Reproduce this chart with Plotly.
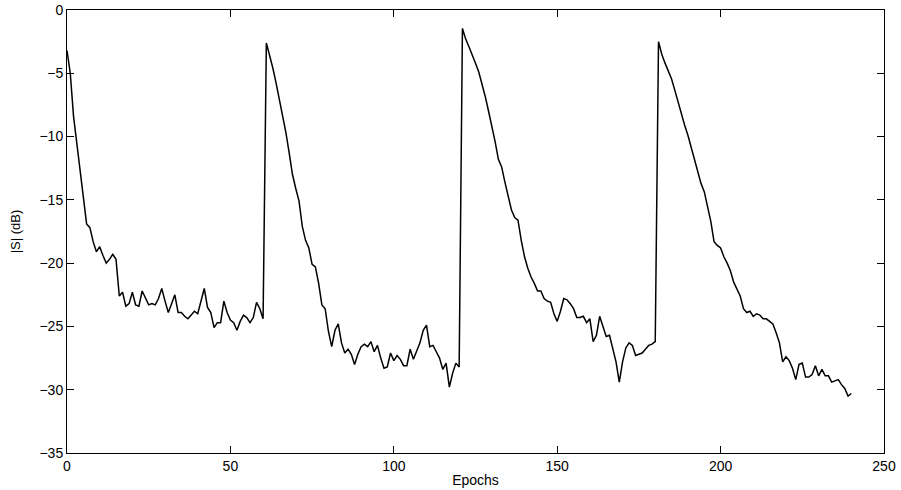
import plotly.graph_objects as go

# Separation measure |S| in dB per training epoch (source changes at epochs 61, 121, 181)
epochs = list(range(0, 241))

s_db_0_60 = [
    -3.2, -5.0, -8.4, -10.5, -12.4, -14.8, -16.9, -17.2, -18.3, -19.1,
    -18.7, -19.4, -20.0, -19.7, -19.3, -19.7, -22.6, -22.3, -23.4, -23.2,
    -22.3, -23.3, -23.4, -22.2, -22.7, -23.3, -23.2, -23.3, -22.8, -22.0,
    -23.0, -23.9, -23.2, -22.5, -23.9, -23.9, -24.2, -24.4, -24.1, -23.8,
    -24.0, -23.0, -22.0, -23.5, -23.9, -25.1, -24.7, -24.7, -23.0, -23.9,
    -24.5, -24.7, -25.3, -24.6, -24.1, -24.3, -24.7, -24.3, -23.1, -23.6,
    -24.4,
]
s_db_61_120 = [
    -2.6, -3.55, -4.6, -5.8, -7.1, -8.4, -9.7, -11.3, -13.0, -14.1,
    -15.1, -17.1, -18.2, -18.8, -20.1, -20.3, -21.6, -23.3, -23.6, -25.4,
    -26.6, -25.3, -24.8, -26.3, -27.1, -26.8, -27.2, -28.0, -27.2, -26.6,
    -26.4, -26.6, -26.2, -27.0, -26.5, -27.5, -28.3, -28.2, -27.1, -27.7,
    -27.3, -27.6, -28.1, -28.1, -26.8, -27.6, -27.0, -26.3, -25.3, -24.9,
    -26.6, -26.5, -27.0, -27.5, -28.4, -27.9, -29.8, -28.7, -27.9, -28.2,
]
s_db_121_180 = [
    -1.45, -2.3, -2.9, -3.5, -4.2, -4.9, -5.8, -6.85, -8.0, -9.1,
    -10.4, -11.8, -12.4, -13.6, -14.7, -15.8, -16.4, -16.6, -18.2, -19.5,
    -20.4, -21.1, -21.6, -22.2, -22.2, -22.8, -23.0, -23.1, -24.0, -24.6,
    -23.8, -22.8, -22.9, -23.2, -23.6, -24.3, -24.3, -24.2, -24.7, -24.4,
    -26.2, -25.7, -24.2, -25.0, -25.8, -25.7, -26.7, -27.8, -29.4, -27.8,
    -26.7, -26.3, -26.5, -27.3, -27.2, -27.1, -26.8, -26.5, -26.4, -26.2,
]
s_db_181_240 = [
    -2.5, -3.5, -4.2, -4.8, -5.45, -6.35, -7.3, -8.3, -9.1, -9.9,
    -10.8, -11.7, -12.6, -13.7, -14.35, -15.5, -16.7, -18.3, -18.6, -18.8,
    -19.5, -20.0, -20.6, -21.5, -22.0, -22.6, -23.6, -23.9, -23.8, -24.2,
    -24.0, -24.1, -24.4, -24.4, -24.6, -24.8, -25.5, -26.3, -27.8, -27.4,
    -27.7, -28.3, -29.2, -28.0, -27.9, -29.0, -29.0, -28.8, -28.1, -28.9,
    -28.4, -28.9, -28.9, -29.4, -29.3, -29.2, -29.6, -29.9, -30.5, -30.3,
]
s_db = s_db_0_60 + s_db_61_120 + s_db_121_180 + s_db_181_240

x_ticks = [0, 50, 100, 150, 200, 250]
y_ticks = [0, -5, -10, -15, -20, -25, -30, -35]

FONT = "Liberation Sans, Arial, Helvetica, sans-serif"

fig = go.Figure(
    go.Scatter(
        x=epochs,
        y=s_db,
        mode="lines",
        line=dict(color="black", width=1.5),
        showlegend=False,
    )
)

axis_common = dict(
    showline=True,
    linecolor="black",
    linewidth=1,
    mirror="ticks",
    ticks="inside",
    ticklen=7,
    tickcolor="black",
    tickwidth=1,
    showgrid=False,
    zeroline=False,
    automargin=False,
    tickfont=dict(family=FONT, size=14, color="black"),
)

fig.update_xaxes(
    range=[0, 250],
    tickvals=x_ticks,
    ticktext=[str(v) for v in x_ticks],
    title=dict(text="Epochs", standoff=2,
               font=dict(family=FONT, size=14, color="black")),
    **axis_common,
)
fig.update_yaxes(
    range=[-35, 0],
    tickvals=y_ticks,
    ticktext=["0" if v == 0 else "\u2212" + str(-v) for v in y_ticks],
    title=dict(text="|S| (dB)", standoff=15,
               font=dict(family=FONT, size=13, color="black")),
    **axis_common,
)

fig.update_layout(
    width=901,
    height=490,
    margin=dict(l=67, r=17, t=10, b=37),
    paper_bgcolor="white",
    plot_bgcolor="white",
)

fig.write_html("out.html")
